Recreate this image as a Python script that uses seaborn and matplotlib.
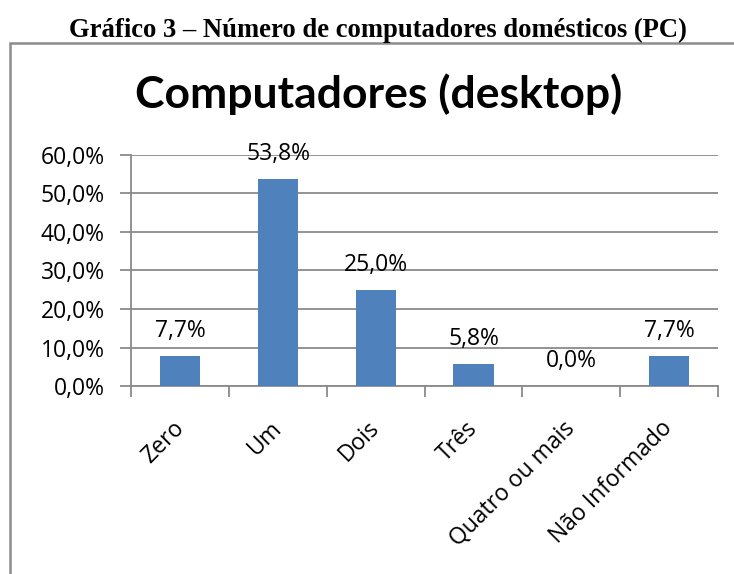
import matplotlib
matplotlib.use('Agg')
import matplotlib.pyplot as plt
import seaborn as sns
import pandas as pd
from matplotlib.patches import Rectangle
from matplotlib.ticker import FuncFormatter

categorias = ['Zero', 'Um', 'Dois', 'Três', 'Quatro ou mais', 'Não Informado']
percentuais = [7.7, 53.8, 25.0, 5.8, 0.0, 7.7]
rotulos = ['7,7%', '53,8%', '25,0%', '5,8%', '0,0%', '7,7%']

df = pd.DataFrame({'categoria': categorias, 'pct': percentuais})

sns.set_theme(style='white')
plt.rcParams['font.family'] = ['Open Sans', 'DejaVu Sans']
plt.rcParams['text.color'] = 'black'
plt.rcParams['xtick.color'] = 'black'
plt.rcParams['ytick.color'] = 'black'

fig = plt.figure(figsize=(7.34, 5.74), dpi=100)
ax = fig.add_axes([0.179, 0.3275, 0.799, 0.4025])

sns.barplot(data=df, x='categoria', y='pct', color='#4F81BD', width=0.41,
            saturation=1, linewidth=0, ax=ax, zorder=3)

ax.set_ylim(0, 60)
ax.set_xlim(-0.5, len(categorias) - 0.5)
ax.set_yticks(range(0, 61, 10))
ax.yaxis.set_major_formatter(FuncFormatter(lambda v, p: f'{v:.1f}%'.replace('.', ',')))
ax.yaxis.grid(True, color='#8a8a8a', linewidth=1.3, zorder=0)
ax.set_axisbelow(True)
ax.set_xlabel('')
ax.set_ylabel('')

for s in ['top', 'right']:
    ax.spines[s].set_visible(False)
for s in ['left', 'bottom']:
    ax.spines[s].set_color('#8a8a8a')
    ax.spines[s].set_linewidth(1.3)

ax.tick_params(axis='y', left=True, length=8, color='#8a8a8a', width=1.3,
               labelsize=16.5, pad=11)
ax.set_xticks([i - 0.5 for i in range(len(categorias) + 1)], minor=True)
ax.tick_params(axis='x', which='minor', bottom=True, length=8, color='#8a8a8a', width=1.3)
ax.tick_params(axis='x', which='major', bottom=False, length=0, labelsize=16.5, pad=28)
ax.set_xticklabels(categorias, rotation=45, ha='right', va='center',
                   rotation_mode='anchor')

for i, (v, t) in enumerate(zip(percentuais, rotulos)):
    ax.text(i, v + 4.9, t, ha='center', va='baseline', fontsize=16.5)

fig.text(0.516, 1 - 108 / 574, 'Computadores (desktop)', ha='center', va='baseline',
         fontsize=32, fontweight='bold', family=['Lato', 'DejaVu Sans'])

fig.text(0.515, 1 - 37 / 574, 'Gráfico 3 – Número de computadores domésticos (PC)',
         ha='center', va='baseline', fontsize=19.2, fontweight='bold',
         family=['Liberation Serif', 'DejaVu Serif'])

fig.patches.append(Rectangle((10 / 734, -0.01), 1.0, 1 - 43 / 574 + 0.01,
                             transform=fig.transFigure, fill=False,
                             edgecolor='#8c8c8c', linewidth=1.8))

fig.savefig('out.png', dpi=100)
